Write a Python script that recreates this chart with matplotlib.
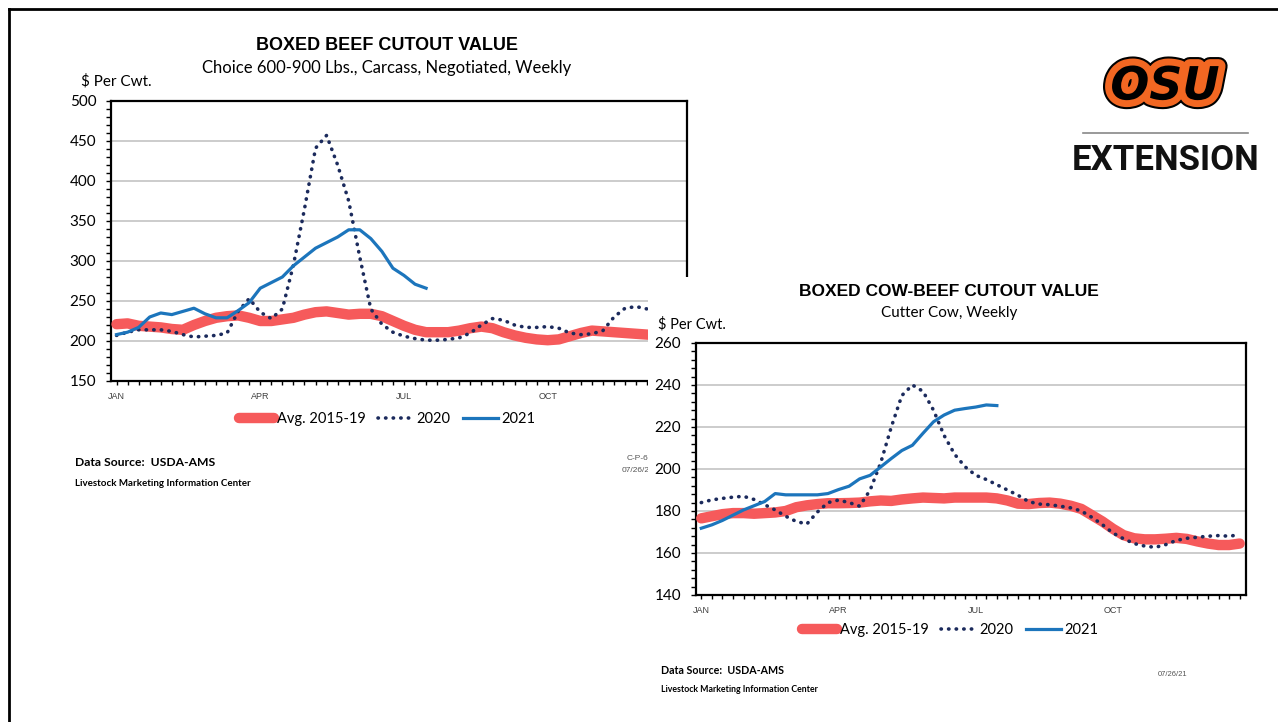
"""
Boxed beef / cow-beef cutout value slide (OSU Extension style).
Two overlapping weekly charts plus logo block, saved to out.png.
"""
import matplotlib
matplotlib.use("Agg")
import matplotlib.pyplot as plt
import matplotlib.patheffects as pe
import matplotlib.ticker as mticker
from matplotlib.lines import Line2D
from matplotlib.patches import Rectangle
import numpy as np

W, H = 1278, 722
RED = "#F65A5B"
NAVY = "#1B2A5C"
BLUE = "#1C75BC"
GRID = "#C8C8C8"
ORANGE = "#F26722"
BODY_FONT = "Lato"
HEAD_FONT = "Liberation Sans"

MONTHS = ["JAN", "APR", "JUL", "OCT"]
MONTH_WEEKS = [1, 14, 27, 40]
SERIES_LABELS = ["Avg. 2015-19", "2020", "2021"]

# Choice boxed beef cutout, $/cwt, weekly
BEEF_AVG = [221, 222, 219, 218, 217, 215, 214, 220, 225, 229,
            231, 232, 229, 225, 225, 227, 229, 233, 236, 237,
            235, 233, 234, 234, 231, 225, 219, 214, 211, 211,
            211, 213, 216, 218, 216, 211, 207, 204, 202, 201,
            202, 206, 210, 213, 212, 211, 210, 209, 208, 207,
            207, 206]
BEEF_2020 = [207, 211, 214, 214, 214, 212, 208, 205, 206, 207,
             210, 237, 253, 236, 228, 240, 295, 365, 441, 457,
             420, 375, 305, 240, 221, 211, 206, 203, 201, 201,
             202, 204, 210, 220, 228, 226, 220, 217, 217, 218,
             216, 210, 208, 209, 213, 230, 241, 243, 240, 238,
             236, 234]
BEEF_2021 = [208, 211, 217, 230, 235, 233, 237, 241, 234, 229,
             229, 238, 248, 266, 273, 280, 294, 305, 316, 323,
             330, 339, 339, 328, 312, 291, 282, 271, 266]

# Cutter cow boxed beef cutout, $/cwt, weekly
COW_AVG = [176.5, 177.5, 178.5, 179, 179, 178.7, 179, 179.3, 180, 181.8,
           182.7, 183.3, 183.7, 183.7, 183.8, 184, 184.6, 185, 184.8, 185.5,
           186, 186.4, 186.2, 186, 186.4, 186.4, 186.4, 186.4, 186, 185,
           183.5, 183.3, 183.8, 184, 183.5, 182.5, 181, 178, 175, 171.5,
           168.5, 167, 166.5, 166.5, 166.8, 167.2, 166.7, 165.5, 164.5, 163.8,
           163.8, 164.5]
COW_2020 = [184, 185.3, 186, 186.6, 187, 185.5, 183, 180.5, 177.5, 175,
            173.8, 179.5, 184, 185.2, 184, 182.3, 190, 203, 220, 235,
            240, 237, 228, 216, 207, 201, 197, 195, 192.5, 190,
            187.5, 184.5, 183.3, 183, 182.3, 181.5, 180, 177, 173.5, 169.5,
            166.8, 164.5, 163.3, 162.7, 164, 166, 167, 167.5, 168, 168.3,
            168, 168.7]
COW_2021 = [171.8, 173.4, 175.5, 178, 180.5, 182.5, 184.5, 188.3, 187.7, 187.7,
            187.7, 187.7, 188.3, 190.2, 191.8, 195.3, 197, 201, 205, 208.8,
            211.3, 217, 222.5, 225.7, 228, 228.8, 229.5, 230.5, 230.2]


def fx(px):
    return px / W


def fy(py):
    return 1 - py / H


def box(left, top, right, bottom):
    return [fx(left), fy(bottom), (right - left) / W, (bottom - top) / H]


def draw_chart(fig, ax, avg, y2020, y2021, yticks, yminor, legend_xy):
    ax.plot(np.arange(1, len(avg) + 1), avg, color=RED, lw=7.5,
            solid_capstyle="round", label=SERIES_LABELS[0], zorder=3)
    ax.plot(np.arange(1, len(y2020) + 1), y2020, color=NAVY, lw=2.6,
            linestyle=(0, (0.1, 2.0)), dash_capstyle="round",
            label=SERIES_LABELS[1], zorder=4)
    ax.plot(np.arange(1, len(y2021) + 1), y2021, color=BLUE, lw=2.3,
            label=SERIES_LABELS[2], zorder=5)

    ax.set_xlim(0.5, 52.6)
    ax.set_ylim(yticks[0], yticks[-1])
    ax.set_yticks(yticks)
    ax.yaxis.set_minor_locator(mticker.MultipleLocator(yminor))
    ax.xaxis.set_major_locator(mticker.FixedLocator(MONTH_WEEKS))
    ax.xaxis.set_minor_locator(mticker.FixedLocator(np.arange(1, 53)))
    ax.set_xticklabels(MONTHS)

    ax.yaxis.grid(True, color=GRID, lw=1.3)
    ax.set_axisbelow(True)
    for s in ax.spines.values():
        s.set_linewidth(1.6)
        s.set_color("black")

    ax.tick_params(axis="y", which="both", direction="out", length=3.5,
                   width=1, pad=7, labelsize=11)
    ax.tick_params(axis="x", which="both", direction="out", length=3,
                   width=1, pad=5, labelsize=6.5, labelcolor="#404040")
    for lbl in ax.get_yticklabels():
        lbl.set_fontfamily(BODY_FONT)
    for lbl in ax.get_xticklabels():
        lbl.set_fontfamily(HEAD_FONT)

    ax.legend(loc="center", bbox_to_anchor=(fx(legend_xy[0]), fy(legend_xy[1])),
              bbox_transform=fig.transFigure, ncol=3, frameon=False,
              handlelength=2.4, handletextpad=0.2, columnspacing=0.9,
              prop={"family": BODY_FONT, "size": 10.5})


def main():
    plt.rcParams["font.family"] = [BODY_FONT, "DejaVu Sans"]
    fig = plt.figure(figsize=(W / 100, H / 100), dpi=100)
    fig.patch.set_facecolor("white")

    # --- chart 1: choice boxed beef ---
    ax1 = fig.add_axes(box(111, 101, 687, 381))
    draw_chart(fig, ax1, BEEF_AVG, BEEF_2020, BEEF_2021,
               np.arange(150, 501, 50), 10, (387, 419))
    fig.text(fx(387), fy(45), "BOXED BEEF CUTOUT VALUE", ha="center", va="center",
             family=HEAD_FONT, fontweight="bold", fontsize=13)
    fig.text(fx(387), fy(68), "Choice 600-900 Lbs., Carcass, Negotiated, Weekly",
             ha="center", va="center", fontsize=12)
    fig.text(fx(81), fy(81), "$ Per Cwt.", ha="left", va="center", fontsize=11)
    fig.text(fx(75), fy(463), "Data Source:  USDA-AMS", ha="left", va="center",
             fontweight="bold", fontsize=8.7)
    fig.text(fx(75), fy(484), "Livestock Marketing Information Center", ha="left",
             va="center", fontweight="bold", fontsize=7)
    fig.text(fx(627), fy(458), "C-P-60", ha="left", va="center", family=HEAD_FONT,
             fontsize=6, color="#555555", zorder=0.5)
    fig.text(fx(622), fy(471), "07/26/21", ha="left", va="center", family=HEAD_FONT,
             fontsize=6, color="#555555", zorder=0.5)

    # white card of chart 2 laid over chart 1
    fig.add_artist(Rectangle((fx(648), 0), 1 - fx(648), fy(277),
                             transform=fig.transFigure, facecolor="white",
                             edgecolor="none", zorder=1))

    # --- chart 2: cutter cow ---
    ax2 = fig.add_axes(box(696, 343, 1246, 595))
    ax2.set_zorder(2)
    draw_chart(fig, ax2, COW_AVG, COW_2020, COW_2021,
               np.arange(140, 261, 20), 4, (950, 630))
    fig.text(fx(949), fy(291), "BOXED COW-BEEF CUTOUT VALUE", ha="center", va="center",
             family=HEAD_FONT, fontweight="bold", fontsize=12.5)
    fig.text(fx(949), fy(313), "Cutter Cow, Weekly", ha="center", va="center",
             fontsize=11)
    fig.text(fx(658), fy(324), "$ Per Cwt.", ha="left", va="center", fontsize=10.5)
    fig.text(fx(661), fy(670), "Data Source:  USDA-AMS", ha="left", va="center",
             fontweight="bold", fontsize=7.7)
    fig.text(fx(661), fy(690), "Livestock Marketing Information Center", ha="left",
             va="center", fontweight="bold", fontsize=6.3)
    fig.text(fx(1158), fy(674), "07/26/21", ha="left", va="center", family=HEAD_FONT,
             fontsize=5.5, color="#555555")

    # --- logo block ---
    fig.text(fx(1165), fy(87), "OSU", ha="center", va="center", family="DejaVu Sans",
             fontweight="bold", fontstyle="italic", fontsize=33, color="black",
             path_effects=[pe.Stroke(linewidth=13, foreground="black"),
                           pe.Stroke(linewidth=10, foreground=ORANGE),
                           pe.Normal()])
    fig.add_artist(Line2D([fx(1083), fx(1248)], [fy(133), fy(133)],
                          transform=fig.transFigure, color="#888888", lw=1.2))
    fig.text(fx(1166), fy(161), "EXTENSION", ha="center", va="center", family="Roboto",
             fontweight="bold", fontsize=25, color="#111111")

    # slide border (left and top edges visible)
    fig.add_artist(Line2D([fx(9), fx(9)], [0, fy(9)], transform=fig.transFigure,
                          color="black", lw=2, zorder=10))
    fig.add_artist(Line2D([fx(9), 1], [fy(9), fy(9)], transform=fig.transFigure,
                          color="black", lw=2, zorder=10))

    fig.savefig("out.png", dpi=100)
    plt.close(fig)


if __name__ == "__main__":
    main()
